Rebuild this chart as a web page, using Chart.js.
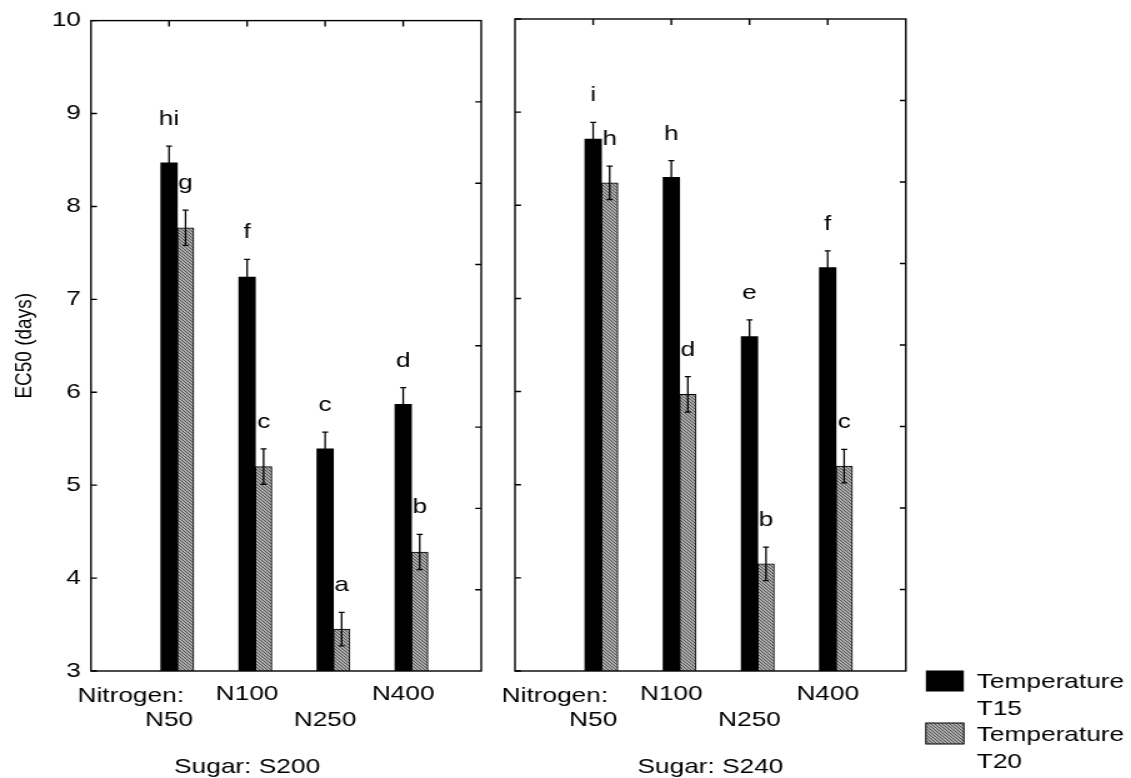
<!DOCTYPE html>
<html lang="en">
<head>
<meta charset="utf-8">
<title>EC50 by nitrogen, sugar and temperature</title>
<script src="https://cdn.jsdelivr.net/npm/chart.js@4.4.1/dist/chart.umd.min.js"></script>
<style>
  html, body { margin: 0; background: #fff; overflow: hidden; }
  #figure { position: relative; width: 1131px; height: 778px; }
  #figure canvas { position: absolute; top: 0; height: 778px; }
</style>
</head>
<body>
<div id="figure">
  <canvas id="panelS200" width="396" height="778" style="left:0;width:495px"></canvas>
  <canvas id="panelS240" width="509" height="778" style="left:495px;width:636.25px"></canvas>
</div>
<script>
// the canvases are drawn narrow and widened by css (wide-set lettering)
const STRETCH = 1.25;
const FONT = '21px "Liberation Sans", Arial, sans-serif';

const nitrogen = ["N50", "N100", "N250", "N400"];
const yTicks = [3, 4, 5, 6, 7, 8, 9, 10];

// Sugar S200
const s200T15 = [8.47, 7.24, 5.39, 5.87];
const s200T15Err = [0.18, 0.19, 0.18, 0.18];
const s200T15Letters = ["hi", "f", "c", "d"];
const s200T20 = [7.77, 5.20, 3.45, 4.28];
const s200T20Err = [0.19, 0.19, 0.18, 0.19];
const s200T20Letters = ["g", "c", "a", "b"];

// Sugar S240
const s240T15 = [8.71, 8.30, 6.59, 7.33];
const s240T15Err = [0.18, 0.18, 0.18, 0.18];
const s240T15Letters = ["i", "h", "e", "f"];
const s240T20 = [8.24, 5.97, 4.15, 5.20];
const s240T20Err = [0.18, 0.19, 0.18, 0.18];
const s240T20Letters = ["h", "d", "b", "c"];

Chart.defaults.font.family = '"Liberation Sans", Arial, sans-serif';
Chart.defaults.font.size = 21;
Chart.defaults.color = "#000";

// fine diagonal hatch for the T20 bars
function makeHatch() {
  const tile = document.createElement("canvas");
  tile.width = 3;
  tile.height = 3;
  const g = tile.getContext("2d");
  g.fillStyle = "#ababab";
  g.fillRect(0, 0, 3, 3);
  g.fillStyle = "#555555";
  for (let i = 0; i < 3; i++) g.fillRect(i, i, 1, 1);
  return g.createPattern(tile, "repeat");
}
const hatch = makeHatch();

const pad = (arr) => [null, ...arr, null];

// box round the plot with inward ticks
const panelFrame = {
  id: "panelFrame",
  afterDatasetsDraw(chart) {
    const { ctx, chartArea: a, scales } = chart;
    const x = scales.x;
    const y = scales.y;
    const len = 6;
    ctx.save();
    ctx.strokeStyle = "#000";
    ctx.lineWidth = 1.4;
    ctx.strokeRect(a.left, a.top, a.width, a.height);
    ctx.beginPath();
    yTicks.forEach((v) => {
      const py = y.getPixelForValue(v);
      ctx.moveTo(a.left, py);
      ctx.lineTo(a.left + len / STRETCH, py);
    });
    nitrogen.forEach((_, i) => {
      const px = x.getPixelForValue(i + 1);
      ctx.moveTo(px, a.top);
      ctx.lineTo(px, a.top + len);
    });
    for (let k = 1; k < 8; k++) {
      const py = a.top + (a.height * k) / 8;
      ctx.moveTo(a.right, py);
      ctx.lineTo(a.right - len / STRETCH, py);
    }
    ctx.stroke();
    ctx.restore();
  },
};

// error bars and the significance letters above them
const errorBars = {
  id: "errorBars",
  afterDatasetsDraw(chart) {
    const { ctx } = chart;
    const y = chart.scales.y;
    const cap = 3 / STRETCH;
    ctx.save();
    ctx.strokeStyle = "#000";
    ctx.fillStyle = "#000";
    ctx.lineWidth = 1.3;
    ctx.font = FONT;
    ctx.textAlign = "center";
    ctx.textBaseline = "alphabetic";
    chart.data.datasets.forEach((ds, di) => {
      if (!ds.errors) return;
      chart.getDatasetMeta(di).data.forEach((bar, i) => {
        const v = ds.data[i];
        if (v == null) return;
        const top = y.getPixelForValue(v + ds.errors[i]);
        const bot = y.getPixelForValue(v - ds.errors[i]);
        ctx.beginPath();
        ctx.moveTo(bar.x, top);
        ctx.lineTo(bar.x, bot);
        ctx.moveTo(bar.x - cap, top);
        ctx.lineTo(bar.x + cap, top);
        ctx.moveTo(bar.x - cap, bot);
        ctx.lineTo(bar.x + cap, bot);
        ctx.stroke();
        ctx.fillText(ds.letters[i], bar.x, top - 21);
      });
    });
    ctx.restore();
  },
};

// "Nitrogen:" in front of the level names and the sugar caption
const axisNotes = {
  id: "axisNotes",
  afterDraw(chart, args, opts) {
    const { ctx } = chart;
    const x = chart.scales.x;
    ctx.save();
    ctx.fillStyle = "#000";
    ctx.font = FONT;
    ctx.textBaseline = "alphabetic";
    ctx.textAlign = "right";
    ctx.fillText("Nitrogen:", x.getPixelForValue(1) + 15 / STRETCH, 702);
    ctx.textAlign = "center";
    ctx.fillText(opts.sugar, x.getPixelForValue(opts.at), 773);
    ctx.restore();
  },
};

// legend to the right of the second panel
const sideLegend = {
  id: "sideLegend",
  afterDraw(chart, args, opts) {
    if (!opts.show) return;
    const { ctx, chartArea: a } = chart;
    const boxX = a.right + 20 / STRETCH;
    const boxW = 38 / STRETCH;
    const textX = a.right + 71 / STRETCH;
    ctx.save();
    ctx.font = FONT;
    ctx.textAlign = "left";
    ctx.textBaseline = "alphabetic";
    chart.data.datasets
      .filter((ds) => ds.label)
      .forEach((ds, k) => {
        const top = 670.5 + k * 52.5;
        ctx.fillStyle = ds.backgroundColor;
        ctx.fillRect(boxX, top, boxW, 21);
        if (ds.borderWidth) {
          ctx.strokeStyle = "#000";
          ctx.lineWidth = 1;
          ctx.strokeRect(boxX, top, boxW, 21);
        }
        const cut = ds.label.lastIndexOf(" ");
        ctx.fillStyle = "#000";
        ctx.fillText(ds.label.slice(0, cut), textX, top + 17.5);
        ctx.fillText(ds.label.slice(cut + 1), textX, top + 44.5);
      });
    ctx.restore();
  },
};

function buildPanel(canvasId, series, setup) {
  const barW = 16.5 / STRETCH;
  return new Chart(document.getElementById(canvasId), {
    type: "bar",
    data: {
      labels: ["", ...nitrogen, ""],
      datasets: [
        // empty slot on the left so the T15 bar sits on its category
        { label: "", data: pad(nitrogen.map(() => null)), barThickness: barW },
        {
          label: "Temperature T15",
          data: pad(series.t15),
          errors: pad(series.t15Err),
          letters: pad(series.t15Letters),
          backgroundColor: "#000",
          borderWidth: 0,
          barThickness: barW,
        },
        {
          label: "Temperature T20",
          data: pad(series.t20),
          errors: pad(series.t20Err),
          letters: pad(series.t20Letters),
          backgroundColor: hatch,
          borderColor: "#000",
          borderWidth: 1,
          barThickness: barW,
        },
      ],
    },
    options: {
      responsive: false,
      animation: false,
      devicePixelRatio: 1,
      events: [],
      layout: { padding: { top: 19, bottom: 0, left: 0, right: setup.right } },
      plugins: {
        legend: { display: false },
        tooltip: { enabled: false },
        axisNotes: { sugar: setup.sugar, at: setup.sugarAt },
        sideLegend: { show: setup.legend },
      },
      scales: {
        x: {
          type: "category",
          offset: false,
          grid: { display: false, drawTicks: false },
          border: { display: false },
          ticks: {
            autoSkip: false,
            maxRotation: 0,
            padding: 11,
            font: { size: 21, lineHeight: 1.2 },
            callback(value, i) {
              const name = this.getLabelForValue(value);
              if (!name) return "";
              return i % 2 ? ["", name] : [name, ""];
            },
          },
          afterFit(scale) {
            scale.height = 107;
          },
        },
        y: {
          min: yTicks[0],
          max: yTicks[yTicks.length - 1],
          grid: { display: false, drawTicks: false },
          border: { display: false },
          ticks: { stepSize: 1, padding: 8, display: setup.yLabels },
          title: {
            display: setup.yLabels,
            text: "EC50 (days)",
            font: { size: 19 },
            padding: { top: 8, bottom: 0 },
          },
          afterFit(scale) {
            scale.width = setup.left;
          },
        },
      },
    },
    plugins: [panelFrame, errorBars, axisNotes, sideLegend],
  });
}

buildPanel(
  "panelS200",
  {
    t15: s200T15, t15Err: s200T15Err, t15Letters: s200T15Letters,
    t20: s200T20, t20Err: s200T20Err, t20Letters: s200T20Letters,
  },
  { left: 91 / STRETCH, right: 396 - 482 / STRETCH, sugar: "Sugar: S200", sugarAt: 2, yLabels: true, legend: false }
);

buildPanel(
  "panelS240",
  {
    t15: s240T15, t15Err: s240T15Err, t15Letters: s240T15Letters,
    t20: s240T20, t20Err: s240T20Err, t20Letters: s240T20Letters,
  },
  { left: 20 / STRETCH, right: 509 - 411 / STRETCH, sugar: "Sugar: S240", sugarAt: 2.5, yLabels: false, legend: true }
);
</script>
</body>
</html>
